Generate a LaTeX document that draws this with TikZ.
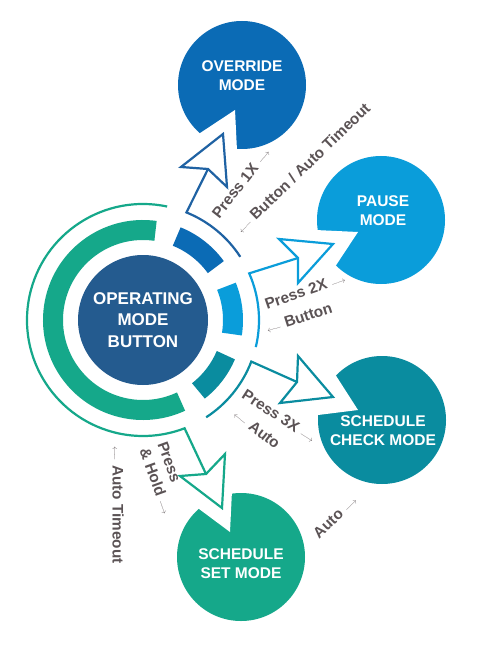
\documentclass[tikz,border=0pt]{standalone}
\usepackage{fontspec}
\setmainfont{Liberation Sans}
\definecolor{ovr}{HTML}{0B6BB5}
\definecolor{ovrline}{HTML}{1F62A3}
\definecolor{pau}{HTML}{0A9DDA}
\definecolor{chk}{HTML}{0A8C9F}
\definecolor{setc}{HTML}{15A88A}
\definecolor{ctr}{HTML}{245B8F}
\definecolor{lblc}{HTML}{5B5355}
\definecolor{arrc}{HTML}{7A7375}
\newcommand{\myra}{{\normalfont\fontsize{9}{9}\selectfont\color{arrc}$\longrightarrow$}}
\newcommand{\myla}{{\normalfont\fontsize{9}{9}\selectfont\color{arrc}$\longleftarrow$}}
\tikzset{
  ringseg/.style={line width=20pt},
  thinline/.style={line width=2.2pt, line join=miter},
  headshape/.style={draw=#1, line width=2.2pt, line join=miter, fill=white},
  modecirc/.style={circle, minimum size=128pt, inner sep=0pt},
  modetext/.style={text=white, font=\bfseries\fontsize{15.5}{19}\selectfont, align=center, inner sep=0pt},
  ctrtext/.style={text=white, font=\bfseries\fontsize{17}{21.5}\selectfont, align=center, inner sep=0pt},
  lbl/.style={text=lblc, font=\bfseries\fontsize{15.3}{19}\selectfont, inner sep=0pt},
  notch/.style={fill=white}
}
\begin{document}
\begin{tikzpicture}[x=1pt,y=-1pt]
\useasboundingbox (0,0) rectangle (482,652);
\fill[white] (0,0) rectangle (482,652);
\coordinate (O) at (143,320);

% centre button
\node[modecirc, minimum size=130pt, fill=ctr] (btn) at (O) {};
\node[ctrtext] (btntext) at (143,320) {OPERATING\\MODE\\BUTTON};

% thick ring segments
\draw[ringseg, setc] (O) ++(-82:90) arc[start angle=-82, end angle=-295, radius=90];
\draw[ringseg, ovr] (O) ++(-36:90) arc[start angle=-36, end angle=-68, radius=90];
\draw[ringseg, pau] (O) ++(9:90) arc[start angle=9, end angle=-22, radius=90];
\draw[ringseg, chk] (O) ++(52:90) arc[start angle=52, end angle=23, radius=90];

% mode circles
\node[modecirc, fill=ovr] (override) at (242,85) {};
\node[modecirc, fill=pau] (pause) at (381,220) {};
\node[modecirc, fill=chk] (check) at (382,420) {};
\node[modecirc, fill=setc] (setm) at (241,557) {};

% notches
\fill[notch] (235,110) -- (179,147) -- (238,171) -- cycle;
\fill[notch] (358,232) -- (294,229) -- (321,288) -- cycle;
\fill[notch] (358,410) -- (324,357) -- (294,418) -- cycle;
\fill[notch] (230,532) -- (179,494) -- (233,470) -- cycle;

% mode texts
\node[modetext] (ovrtext) at (242,76) {OVERRIDE\\MODE};
\node[modetext] (pautext) at (383,211) {PAUSE\\MODE};
\node[modetext] (chktext) at (383,431) {SCHEDULE\\CHECK MODE};
\node[modetext] (settext) at (241,564) {SCHEDULE\\SET MODE};

% arrows
\coordinate (n1) at (208,169);
\coordinate (n2) at (298,258);
\coordinate (n3) at (297,382);
\coordinate (n4) at (206,474);
\draw[thinline, ovrline] (O) ++(-33:116) arc[start angle=-33, end angle=-68, radius=116] -- (n1);
\path[headshape=ovrline] (n1) -- (181,167) -- (223,134) -- (227,187) -- cycle;
\draw[thinline, pau] (O) ++(13.5:116) arc[start angle=13.5, end angle=-23.7, radius=116] -- (n2);
\path[headshape=pau] (n2) -- (279,239) -- (333,244) -- (298,283) -- cycle;
\draw[thinline, chk] (O) ++(57:116) arc[start angle=57, end angle=21, radius=116] -- (n3);
\path[headshape=chk] (n3) -- (298,356) -- (333,397) -- (280,403) -- cycle;
\draw[thinline, setc] (O) ++(-78:116) arc[start angle=-78, end angle=-291, radius=116] -- (n4);
\path[headshape=setc] (n4) -- (180,476) -- (222,508) -- (225,454) -- cycle;

% labels
\node[lbl, rotate=52] (l1) at (241,183) {Press 1X \myra};
\node[lbl, rotate=44] (l2) at (303,168) {\myla{} Button / Auto Timeout};
\node[lbl, rotate=19] (l3) at (305,291) {Press 2X \myra};
\node[lbl, rotate=18] (l4) at (299,318) {\myla{} Button};
\node[lbl, rotate=-33] (l5) at (279,416) {Press 3X \myra};
\node[lbl, rotate=-38] (l6) at (257,429) {\myla{} Auto};
\node[lbl, rotate=-70, align=left] (l7) at (165,478) {Press\\\& Hold \myra};
\node[lbl, rotate=-90] (l8) at (118,505) {\myla{} Auto Timeout};
\node[lbl, rotate=44] (l9) at (335,517) {Auto \myra};
\end{tikzpicture}
\end{document}
